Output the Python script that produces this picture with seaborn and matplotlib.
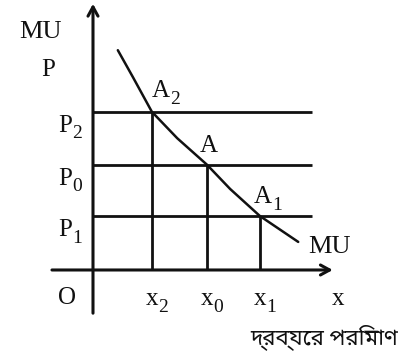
import matplotlib
matplotlib.use("Agg")
import matplotlib.pyplot as plt
import seaborn as sns
import pandas as pd

# Quantities on the horizontal axis
quantities = [1.09, 2.11, 3.09]
quantity_subs = ["2", "0", "1"]

# Price levels (matching the three quantities)
prices = [2.93, 1.95, 1.00]
price_subs = ["2", "0", "1"]

# Points on the marginal utility curve
point_subs = ["2", "", "1"]

# Marginal utility curve
mu_x = [0.46, 0.74, 1.09, 1.56, 2.11, 2.54, 3.09, 3.80]
mu_y = [4.07, 3.57, 2.93, 2.44, 1.95, 1.50, 1.00, 0.52]

sns.set_theme(style="white")
plt.rcParams["font.family"] = ["Liberation Serif", "Noto Sans Bengali", "Noto Serif Bengali",
                               "Lohit Bengali", "FreeSerif", "DejaVu Sans"]

fig = plt.figure(figsize=(4.12, 3.58), dpi=100)
ax = fig.add_axes([0, 0, 1, 1])
ax.set_xlim(-1.722, 5.907)
ax.set_ylim(-1.63, 5.0)
ax.axis("off")

ink = "#111111"
fs = 18
fs_sub = 14


def label(x, y, main, sub="", ha="left"):
    """Letter with a low subscript placed right after it; (x, y) is the baseline anchor."""
    t = ax.text(x, y, main, fontsize=fs, ha="left", va="baseline", color=ink)
    if sub:
        ax.annotate(sub, xy=(1, 0), xycoords=t, xytext=(0.5, -4), textcoords="offset points",
                    fontsize=fs_sub, ha="left", va="bottom", color=ink)
    return t


# Axes with open arrowheads
arrow = dict(arrowstyle="->,head_length=0.55,head_width=0.3", lw=2.2, color=ink,
             shrinkA=0, shrinkB=0)
ax.annotate("", xy=(0, 4.93), xytext=(0, -0.8), arrowprops=arrow)
ax.annotate("", xy=(4.44, 0), xytext=(-0.76, 0), arrowprops=arrow)

# Price lines and quantity drop-lines
ax.hlines(prices, 0, 4.06, color=ink, lw=2.0)
ax.vlines(quantities, 0, prices, color=ink, lw=2.0)

# Marginal utility curve
curve = pd.DataFrame({"x": mu_x, "y": mu_y})
sns.lineplot(data=curve, x="x", y="y", ax=ax, color=ink, lw=1.8, sort=False)

ax.text(-0.98, 4.41, "MU", fontsize=fs + 1, ha="center", va="center", color=ink)
ax.text(-0.83, 3.70, "P", fontsize=fs, ha="center", va="center", color=ink)
for p, s in zip(prices, price_subs):
    label(-0.65, p - 0.37, "P", s)
ax.text(-0.48, -0.52, "O", fontsize=fs, ha="center", va="center", color=ink)
for q, s in zip(quantities, quantity_subs):
    label(q - 0.12, -0.65, "x", s)
ax.text(4.54, -0.65, "x", fontsize=fs, ha="center", va="baseline", color=ink)

point_pos = [(1.09, 3.20), (1.98, 2.19), (2.98, 1.24)]
for (px, py), s in zip(point_pos, point_subs):
    label(px, py, "A", s)
ax.text(3.98, 0.31, "MU", fontsize=fs + 1, ha="left", va="baseline", color=ink)

ax.text(4.28, -1.25, "দ্রব্যের পরিমাণ", fontsize=16, ha="center", va="center", color=ink)

fig.savefig("out.png", dpi=100, facecolor="white")
